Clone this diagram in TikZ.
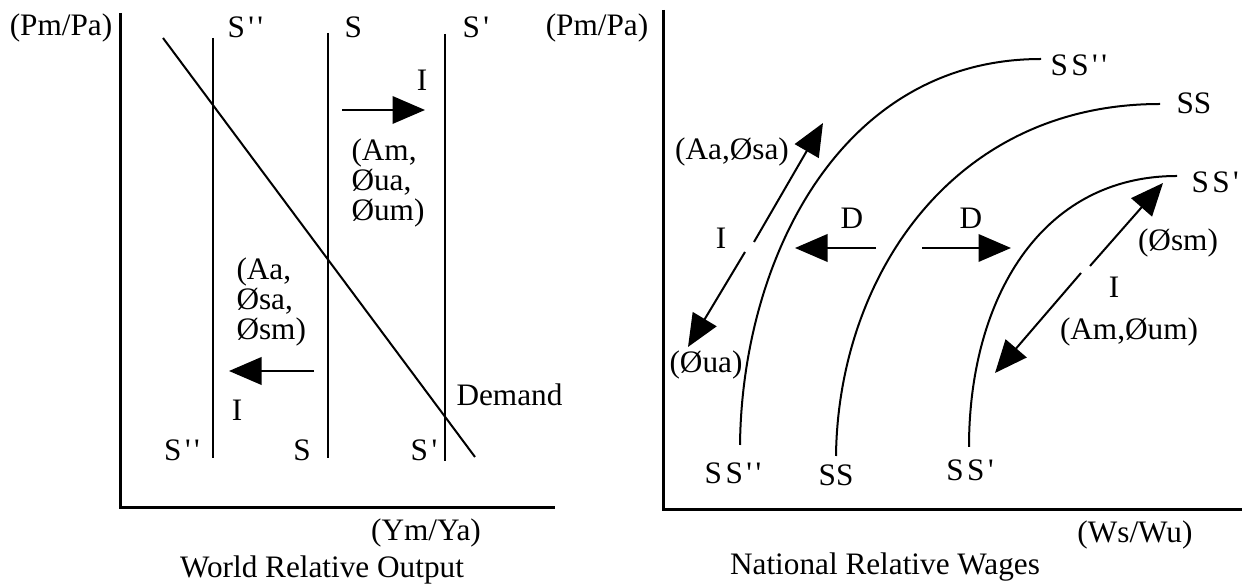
\documentclass[tikz,border=0pt]{standalone}
\usepackage{fontspec}
\setmainfont{Liberation Serif}
\usetikzlibrary{arrows.meta}
\newcommand\tck{\kern1.4pt\textquotesingle}

\begin{document}
\begin{tikzpicture}[x=0.4pt,y=-0.4pt,font=\fontsize{12.5}{12}\selectfont,
  >={Triangle[length=13pt,width=11pt]},
  ax/.style={line width=1.2pt},
  ln/.style={line width=0.8pt},
  sh/.style={ln,->},
  lb/.style={inner sep=0pt},
  lw/.style={inner sep=0pt,anchor=west,align=left}]
  \useasboundingbox (0,0) rectangle (1242,584);
  % world relative output
  \draw[ax] (120,13) -- (120,508) -- (555,508);
  \node[lb] (py1) at (61,28)  {(Pm/Pa)};
  \node[lb] (px1) at (426,533) {(Ym/Ya)};
  \node[lb] (t1)  at (322,570) {World Relative Output};
  \draw[ln] (213,38) -- (213,458);
  \draw[ln] (328,33) -- (328,458);
  \draw[ln] (445,34) -- (445,461);
  \draw[ln] (163,38) -- (475,457);
  \node[lw] (s2t) at (227,27) {S\tck\tck};
  \node[lw] (s0t) at (344,27) {S};
  \node[lw] (s1t) at (462,27) {S\tck};
  \node[lb] (s2b) at (182,450) {S\tck\tck};
  \node[lb] (s0b) at (302,450) {S};
  \node[lb] (s1b) at (424,450) {S\tck};
  \node[lw] (dem) at (456,395) {Demand};
  \coordinate (r0) at (342,110);  \coordinate (r1) at (425,110);
  \coordinate (l0) at (314,371);  \coordinate (l1) at (229,371);
  \draw[sh] (r0) -- (r1);
  \draw[sh] (l0) -- (l1);
  \node[lb] (ir) at (422,80)  {I};
  \node[lb] (il) at (237,410) {I};
  \node[lw] (am) at (351,183) {(Am,\\Øua,\\Øum)};
  \node[lw] (aa) at (236,302) {(Aa,\\Øsa,\\Øsm)};
  % national relative wages
  \draw[ax] (663,10) -- (663,510) -- (1242,510);
  \node[lb] (py2) at (597,28)  {(Pm/Pa)};
  \node[lb] (px2) at (1135,535) {(Ws/Wu)};
  \node[lb] (t2)  at (885,567) {National Relative Wages};
  \draw[ln] (740,445) .. controls (742,260) and (840,59) .. (1041,59);
  \draw[ln] (836,456) .. controls (838,280) and (950,104) .. (1160,104);
  \draw[ln] (969,447) .. controls (969,300) and (1040,176) .. (1177,176);
  \node[lw] (ss2t) at (1050,65)  {S\kern1.4pt S\tck\tck};
  \node[lw] (ss0t) at (1176,103) {SS};
  \node[lw] (ss1t) at (1191,182) {S\kern1.4pt S\tck};
  \node[lb] (ss2b) at (733,473) {S\kern1.4pt S\tck\tck};
  \node[lb] (ss0b) at (836,475) {SS};
  \node[lb] (ss1b) at (970,470) {S\kern1.4pt S\tck};
  \coordinate (ua0) at (754,242);  \coordinate (ua1) at (823,123);
  \coordinate (da0) at (745,252);  \coordinate (da1) at (688,347);
  \coordinate (dl0) at (876,248);  \coordinate (dl1) at (795,248);
  \coordinate (dr0) at (922,248);  \coordinate (dr1) at (1011,248);
  \coordinate (um0) at (1090,266); \coordinate (um1) at (1163,183);
  \coordinate (dm0) at (1081,273); \coordinate (dm1) at (995,373);
  \draw[sh] (ua0) -- (ua1);
  \draw[sh] (da0) -- (da1);
  \draw[sh] (dl0) -- (dl1);
  \draw[sh] (dr0) -- (dr1);
  \draw[sh] (um0) -- (um1);
  \draw[sh] (dm0) -- (dm1);
  \node[lb] (aas) at (732,152)  {(Aa,Øsa)};
  \node[lb] (ia)  at (721,238)  {I};
  \node[lb] (oua) at (706,365)  {(Øua)};
  \node[lb] (dl)  at (852,218)  {D};
  \node[lb] (dr)  at (971,218)  {D};
  \node[lb] (osm) at (1178,243) {(Øsm)};
  \node[lb] (im)  at (1114,287) {I};
  \node[lb] (amu) at (1129,332) {(Am,Øum)};
\end{tikzpicture}
\end{document}
